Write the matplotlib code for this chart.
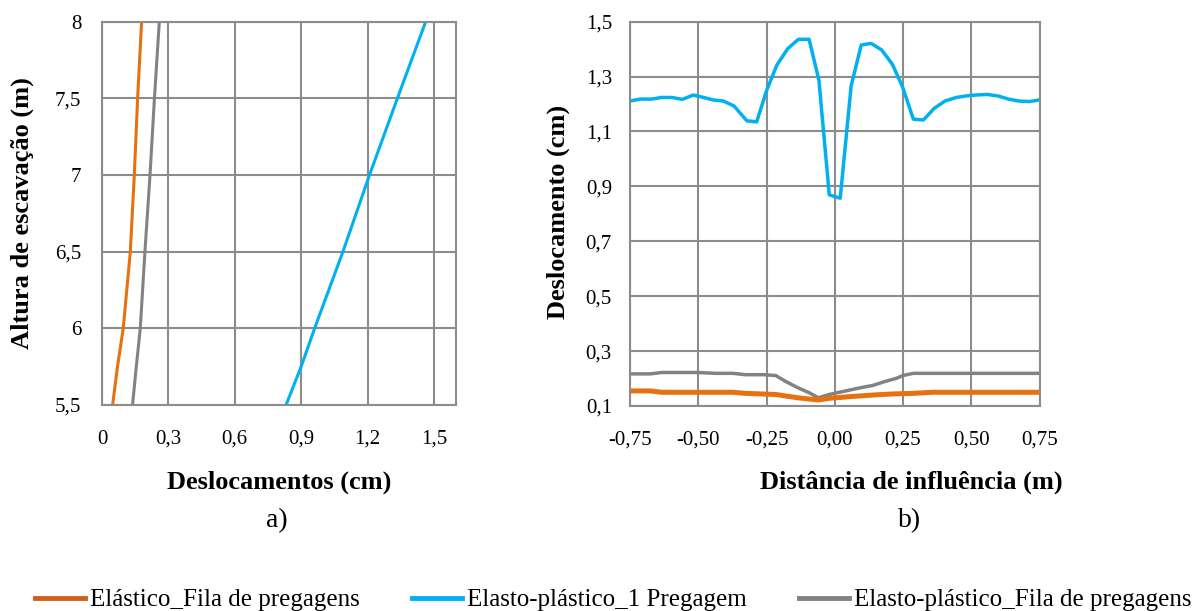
import matplotlib.pyplot as plt
from matplotlib.ticker import FuncFormatter

plt.rcParams["font.family"] = ["Liberation Serif", "DejaVu Serif"]

# --- a) deslocamentos vs altura de escavação
altura = [5.5, 5.75, 6.0, 6.5, 7.0, 7.5, 8.0]
elast_fila_a = [0.048, 0.070, 0.096, 0.128, 0.146, 0.161, 0.179]
ep_fila_a = [0.138, 0.155, 0.173, 0.194, 0.217, 0.237, 0.259]
ep_1preg_a = [0.832, 0.900, 0.961, 1.089, 1.209, 1.335, 1.463]

# --- b) deslocamento vs distância de influência
dist_blue = [-0.750, -0.713, -0.671, -0.634, -0.597, -0.558, -0.518, -0.481,
             -0.445, -0.408, -0.369, -0.322, -0.286, -0.249, -0.212, -0.172,
             -0.133, -0.094, -0.058, -0.020, 0.020, 0.060, 0.097, 0.133,
             0.172, 0.211, 0.249, 0.288, 0.325, 0.364, 0.404, 0.445, 0.484,
             0.520, 0.559, 0.600, 0.636, 0.675, 0.713, 0.750]
ep_1preg_b = [1.211, 1.218, 1.218, 1.224, 1.224, 1.217, 1.233, 1.224,
              1.215, 1.211, 1.193, 1.139, 1.135, 1.251, 1.342, 1.402,
              1.436, 1.436, 1.287, 0.869, 0.857, 1.266, 1.415, 1.421,
              1.397, 1.345, 1.261, 1.145, 1.142, 1.184, 1.211, 1.224, 1.230,
              1.233, 1.235, 1.229, 1.218, 1.211, 1.209, 1.215]

dist_gray = [-0.750, -0.676, -0.634, -0.502, -0.436, -0.374, -0.326, -0.260,
             -0.216, -0.179, -0.136, -0.093, -0.060, -0.020, 0.054, 0.097,
             0.140, 0.183, 0.226, 0.250, 0.287, 0.750]
ep_fila_b = [0.217, 0.217, 0.222, 0.222, 0.219, 0.219, 0.214, 0.214,
             0.211, 0.189, 0.167, 0.148, 0.130, 0.142, 0.158, 0.167,
             0.175, 0.189, 0.201, 0.211, 0.219, 0.219]

dist_orange = [-0.750, -0.676, -0.634, -0.502, -0.374, -0.326, -0.216,
               -0.136, -0.060, -0.020, 0.054, 0.140, 0.214, 0.287, 0.360,
               0.750]
elast_fila_b = [0.155, 0.155, 0.150, 0.150, 0.150, 0.146, 0.142,
                0.130, 0.122, 0.128, 0.134, 0.140, 0.144, 0.146, 0.150,
                0.150]

ORANGE = "#E8700E"
BLUE = "#00B0F0"
GRAY = "#828282"
GRID = "#8C8C8C"

W, H = 1193, 611
fig = plt.figure(figsize=(W / 100, H / 100), dpi=100)


def px_axes(x0, y0, x1, y1):
    return fig.add_axes([x0 / W, 1 - y1 / H, (x1 - x0) / W, (y1 - y0) / H])


def comma(v, _):
    s = f"{v:.1f}".replace(".", ",")
    return "0" if s == "0,0" else s


def style(ax):
    ax.grid(True, color=GRID, lw=1.5)
    for sp in ax.spines.values():
        sp.set_color(GRID)
        sp.set_linewidth(1.5)
    ax.tick_params(length=0, labelsize=15)
    ax.set_axisbelow(True)


# painel a)
ax1 = px_axes(102, 21.7, 456, 405)
ax1.plot(elast_fila_a, altura, color=ORANGE, lw=2.2)
ax1.plot(ep_fila_a, altura, color=GRAY, lw=2.2)
ax1.plot(ep_1preg_a, altura, color=BLUE, lw=2.2)
ax1.set_xlim(0, 1.6)
ax1.set_ylim(5.5, 8)
ax1.set_xticks([0, 0.3, 0.6, 0.9, 1.2, 1.5])
ax1.set_yticks([5.5, 6, 6.5, 7, 7.5, 8])
ax1.xaxis.set_major_formatter(FuncFormatter(comma))
ax1.yaxis.set_major_formatter(FuncFormatter(lambda v, _: f"{v:g}".replace(".", ",")))
style(ax1)
ax1.tick_params(axis="x", pad=18)
ax1.tick_params(axis="y", pad=15)

# painel b)
ax2 = px_axes(630, 21.7, 1039.5, 406)
ax2.plot(dist_gray, ep_fila_b, color=GRAY, lw=2.5)
ax2.plot(dist_orange, elast_fila_b, color=ORANGE, lw=3.6)
ax2.plot(dist_blue, ep_1preg_b, color=BLUE, lw=2.5)
ax2.set_xlim(-0.75, 0.75)
ax2.set_ylim(0.1, 1.5)
ax2.set_xticks([-0.75, -0.5, -0.25, 0, 0.25, 0.5, 0.75])
ax2.set_yticks([0.1, 0.3, 0.5, 0.7, 0.9, 1.1, 1.3, 1.5])
ax2.xaxis.set_major_formatter(FuncFormatter(lambda v, _: f"{v:.2f}".replace(".", ",")))
ax2.yaxis.set_major_formatter(FuncFormatter(comma))
style(ax2)
ax2.tick_params(axis="x", pad=18)
ax2.tick_params(axis="y", pad=13)

# rótulos dos eixos
fig.text(22 / W, 1 - 213 / H, "Altura de escavação (m)", fontsize=19,
         fontweight="bold", rotation=90, ha="center", va="center")
fig.text(558 / W, 1 - 212 / H, "Deslocamento (cm)", fontsize=19,
         fontweight="bold", rotation=90, ha="center", va="center")
fig.text(279 / W, 1 - 482 / H, "Deslocamentos (cm)", fontsize=19,
         fontweight="bold", ha="center", va="center")
fig.text(277 / W, 1 - 521 / H, "a)", fontsize=20, ha="center", va="center")
fig.text(911 / W, 1 - 482 / H, "Distância de influência (m)", fontsize=19,
         fontweight="bold", ha="center", va="center")
fig.text(910 / W, 1 - 521 / H, "b)", fontsize=20, ha="center", va="center")

# legenda
handles = [
    plt.Line2D([], [], color="#D0601A", lw=3.5),
    plt.Line2D([], [], color=BLUE, lw=3.5),
    plt.Line2D([], [], color=GRAY, lw=3.5),
]
labels = ["Elástico_Fila de pregagens", "Elasto-plástico_1 Pregagem",
          "Elasto-plástico_Fila de pregagens"]
fig.legend(handles, labels, loc="center", bbox_to_anchor=(613 / W, 1 - 600 / H),
           ncol=3, frameon=False, fontsize=18, handlelength=2.0,
           handletextpad=0.2, columnspacing=2.1, borderpad=0)

fig.savefig("out.png", dpi=100)
